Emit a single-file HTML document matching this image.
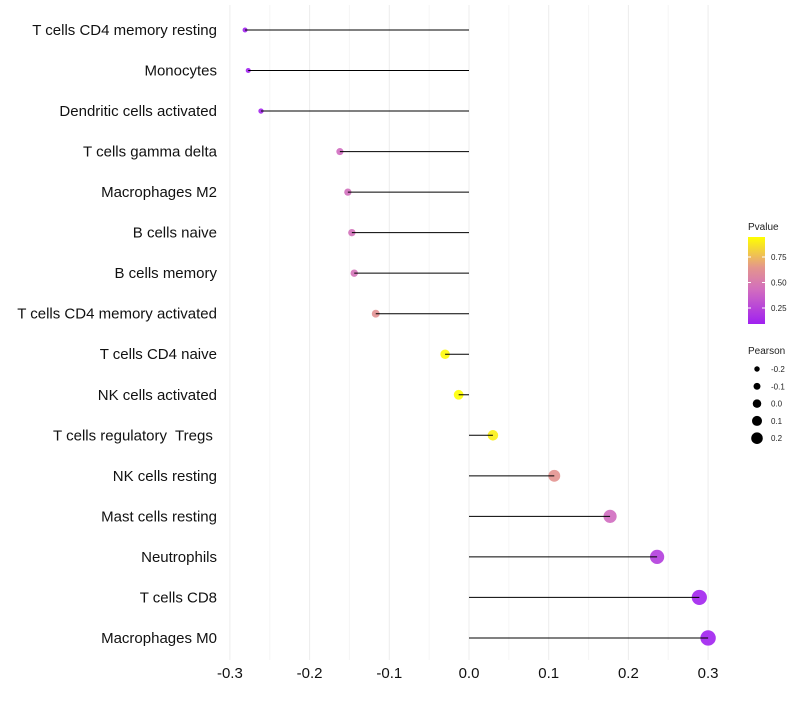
<!DOCTYPE html>
<html><head><meta charset="utf-8"><style>body{margin:0;background:#fff}svg{font-family:"Liberation Sans",sans-serif}</style></head>
<body>
<svg id="c" width="800" height="700"></svg>
<script>
const categories=["T cells CD4 memory resting","Monocytes","Dendritic cells activated","T cells gamma delta","Macrophages M2","B cells naive","B cells memory","T cells CD4 memory activated","T cells CD4 naive","NK cells activated","T cells regulatory  Tregs ","NK cells resting","Mast cells resting","Neutrophils","T cells CD8","Macrophages M0"];
const pearson=[-0.281,-0.277,-0.261,-0.162,-0.152,-0.147,-0.144,-0.117,-0.030,-0.013,0.030,0.107,0.177,0.236,0.289,0.300];
const pvalue=[0.10,0.10,0.12,0.42,0.44,0.45,0.46,0.62,0.93,0.95,0.90,0.63,0.42,0.22,0.11,0.10];
const xTicks=[-0.3,-0.2,-0.1,0.0,0.1,0.2,0.3];
const pTicks=[0.25,0.5,0.75];
const sizeTicks=[-0.2,-0.1,0.0,0.1,0.2];
const NS="http://www.w3.org/2000/svg",svg=document.getElementById('c');
function el(t,a,p){const e=document.createElementNS(NS,t);for(const k in a)e.setAttribute(k,a[k]);(p||svg).appendChild(e);return e;}
const x=v=>469+(v)*797;
const y=i=>30+i*40.53;
const r=v=>5+9*v;
const pMin=0.093,pMax=0.946;
const stops=[[0,[160,32,240]],[0.4,[210,110,190]],[0.65,[228,150,140]],[1,[255,255,0]]];
function col(p){let t=Math.max(0,Math.min(1,(p-pMin)/(pMax-pMin)));
 for(let k=1;k<stops.length;k++){if(t<=stops[k][0]){const a=stops[k-1],b=stops[k];const s=(t-a[0])/(b[0]-a[0]);
  return `rgb(${a[1].map((v,i)=>Math.round(v+(b[1][i]-v)*s)).join(',')})`;}}
 return 'rgb(255,255,0)';}
for(let v=-0.3;v<=0.3001;v+=0.05){const g=el('line',{x1:x(v),x2:x(v),y1:5,y2:660,stroke:Math.abs(Math.round(v*100)%10)===5?'#f6f6f6':'#ececec','stroke-width':1});
}
xTicks.forEach(v=>{const t=el('text',{x:x(v),y:678,'text-anchor':'middle','font-size':15,fill:'#111'});t.textContent=v.toFixed(1);
});
categories.forEach((c,i)=>{
 const t=el('text',{x:217,y:y(i)+5,'text-anchor':'end','font-size':15,fill:'#111','xml:space':'preserve'});t.textContent=c;t.style.whiteSpace='pre';
 
 const d=el('circle',{cx:x(pearson[i]),cy:y(i),r:r(pearson[i]),fill:col(pvalue[i]),'fill-opacity':0.9});
 
 const l=el('line',{x1:x(0),x2:x(pearson[i]),y1:y(i),y2:y(i),stroke:'#000','stroke-width':1});
 
});
const lt=el('text',{x:748,y:230,'font-size':10,fill:'#222'});lt.textContent='Pvalue';

const defs=el('defs',{});const gr=el('linearGradient',{id:'g',x1:0,y1:1,x2:0,y2:0},defs);
for(let k=0;k<=20;k++)el('stop',{offset:k/20,'stop-color':col(pMin+(pMax-pMin)*k/20)},gr);
const cb=el('rect',{x:748,y:237,width:17,height:87,fill:'url(#g)'});

const py=p=>324-(p-pMin)/(pMax-pMin)*87;
pTicks.forEach(p=>{el('line',{x1:748,x2:751,y1:py(p),y2:py(p),stroke:'#fff'});el('line',{x1:762,x2:765,y1:py(p),y2:py(p),stroke:'#fff'});
 const t=el('text',{x:771,y:py(p)+3,'font-size':8,fill:'#222'});t.textContent=p.toFixed(2);
 });
const st=el('text',{x:748,y:354,'font-size':10,fill:'#222'});st.textContent='Pearson';

sizeTicks.forEach((v,k)=>{const cy=369+k*17.3;
 const c=el('circle',{cx:757,cy:cy,r:r(v)*0.85,fill:'#000'});
 const t=el('text',{x:771,y:cy+3,'font-size':8,fill:'#222'});t.textContent=v.toFixed(1);
 });
</script>
</body></html>
